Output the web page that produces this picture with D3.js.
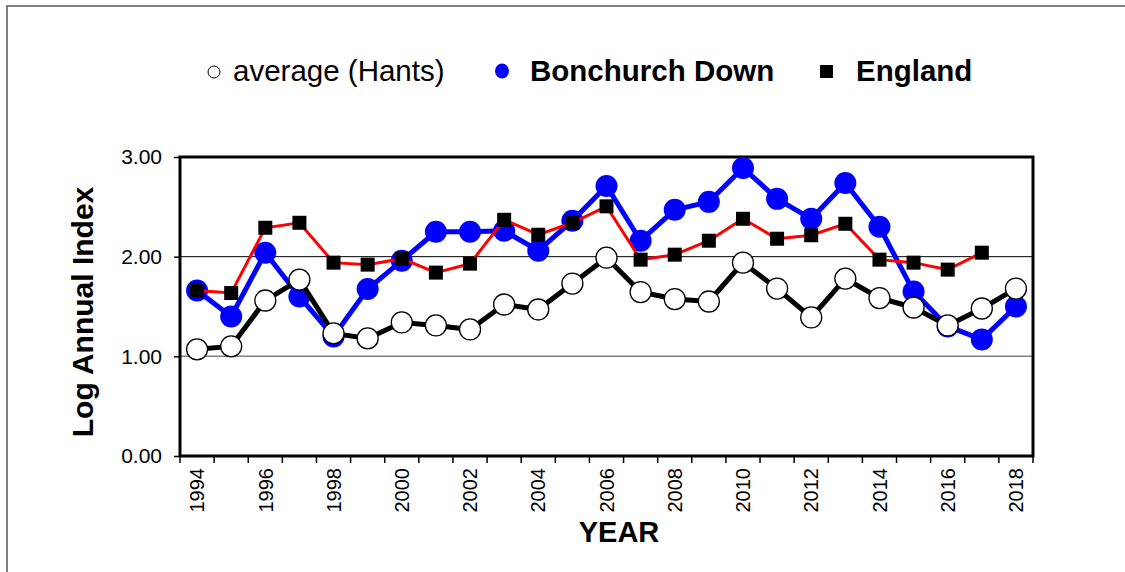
<!DOCTYPE html>
<html>
<head>
<meta charset="utf-8">
<title>Log Annual Index - Bonchurch Down</title>
<script src="https://d3js.org/d3.v7.min.js"></script>
<style>
  body { margin: 0; background: #fff; }
  text { font-family: "Liberation Sans", Arial, sans-serif; }
</style>
</head>
<body>
<div id="chart"></div>
<script>
// data
var years = d3.range(1994, 2019);
var average = [1.07, 1.10, 1.56, 1.77, 1.23, 1.18, 1.34, 1.31, 1.27, 1.52, 1.47, 1.73, 1.99,
               1.645, 1.575, 1.55, 1.94, 1.68, 1.39, 1.78, 1.585, 1.49, 1.31, 1.48, 1.68];
var bonchurch = [1.66, 1.40, 2.04, 1.60, 1.20, 1.675, 1.96, 2.25, 2.25, 2.26, 2.06, 2.36, 2.71,
                 2.16, 2.47, 2.55, 2.89, 2.58, 2.38, 2.74, 2.30, 1.65, 1.30, 1.17, 1.50];
var england = [1.66, 1.635, 2.29, 2.34, 1.94, 1.92, 1.98, 1.84, 1.93, 2.37, 2.22, 2.34, 2.505,
               1.97, 2.02, 2.16, 2.38, 2.18, 2.215, 2.33, 1.97, 1.94, 1.87, 2.04, null];
var yTicks = [0, 1, 2, 3];
var xLabelYears = years.filter(function(d) { return d % 2 === 0; });

var W = 1125, H = 572;
var plot = {left: 180, right: 1033, top: 157, bottom: 456};

var svg = d3.select("#chart").append("svg")
    .attr("width", W)
    .attr("height", H);

// outer chart border
svg.append("rect")
    .attr("x", 7).attr("y", 6)
    .attr("width", W + 20).attr("height", H + 20)
    .attr("fill", "none")
    .attr("stroke", "#555")
    .attr("stroke-width", 1.5);

var x = d3.scaleBand()
    .domain(years)
    .range([plot.left, plot.right])
    .padding(0);

var y = d3.scaleLinear()
    .domain([0, 3])
    .range([plot.bottom, plot.top]);

function cx(d) { return x(d) + x.bandwidth() / 2; }

// gridlines
svg.append("line")
    .attr("x1", plot.left).attr("x2", plot.right)
    .attr("y1", y(1)).attr("y2", y(1))
    .attr("stroke", "#808080").attr("stroke-width", 1.5);
svg.append("line")
    .attr("x1", plot.left).attr("x2", plot.right)
    .attr("y1", y(2)).attr("y2", y(2))
    .attr("stroke", "#000").attr("stroke-width", 1);

// y axis
var yAxis = svg.append("g")
    .attr("transform", "translate(" + plot.left + ",0)")
    .call(d3.axisLeft(y).tickValues(yTicks).tickFormat(d3.format(".2f")).tickSize(6).tickPadding(12));
yAxis.select(".domain").remove();
yAxis.selectAll(".tick line").attr("stroke", "#000").attr("stroke-width", 1.5);
yAxis.selectAll("text")
    .style("font-size", "21px")
    .attr("fill", "#000");

// x axis: ticks on band edges, labels every other year
var edges = years.map(function(d) { return x(d); }).concat([plot.right]);
svg.append("g").selectAll("line")
    .data(edges)
    .enter().append("line")
    .attr("x1", function(d) { return d; })
    .attr("x2", function(d) { return d; })
    .attr("y1", plot.bottom)
    .attr("y2", plot.bottom + 7)
    .attr("stroke", "#000")
    .attr("stroke-width", 1.5);

svg.append("g").selectAll("text")
    .data(xLabelYears)
    .enter().append("text")
    .attr("transform", function(d) { return "translate(" + cx(d) + "," + (plot.bottom + 12) + ") rotate(-90)"; })
    .attr("text-anchor", "end")
    .attr("dy", "0.36em")
    .style("font-size", "20px")
    .text(function(d) { return d; });

// plot frame
svg.append("rect")
    .attr("x", plot.left).attr("y", plot.top)
    .attr("width", plot.right - plot.left)
    .attr("height", plot.bottom - plot.top)
    .attr("fill", "none")
    .attr("stroke", "#000")
    .attr("stroke-width", 3);

var line = d3.line()
    .defined(function(d) { return d.v !== null; })
    .x(function(d) { return cx(d.year); })
    .y(function(d) { return y(d.v); });

function pairs(vals) {
  return years.map(function(yr, i) { return {year: yr, v: vals[i]}; });
}

// Bonchurch Down
var bData = pairs(bonchurch);
svg.append("path")
    .datum(bData)
    .attr("d", line)
    .attr("fill", "none")
    .attr("stroke", "#0000ff")
    .attr("stroke-width", 5)
    .attr("stroke-linejoin", "round");
svg.append("g").selectAll("circle")
    .data(bData)
    .enter().append("circle")
    .attr("cx", function(d) { return cx(d.year); })
    .attr("cy", function(d) { return y(d.v); })
    .attr("r", 11)
    .attr("fill", "#0000ff");

// England
var eData = pairs(england).filter(function(d) { return d.v !== null; });
svg.append("path")
    .datum(eData)
    .attr("d", line)
    .attr("fill", "none")
    .attr("stroke", "#ff0000")
    .attr("stroke-width", 3);
svg.append("g").selectAll("rect")
    .data(eData)
    .enter().append("rect")
    .attr("x", function(d) { return cx(d.year) - 7; })
    .attr("y", function(d) { return y(d.v) - 7; })
    .attr("width", 14)
    .attr("height", 14)
    .attr("fill", "#000");

// average (Hants)
var aData = pairs(average);
svg.append("path")
    .datum(aData)
    .attr("d", line)
    .attr("fill", "none")
    .attr("stroke", "#000")
    .attr("stroke-width", 5)
    .attr("stroke-linejoin", "round");
svg.append("g").selectAll("circle")
    .data(aData)
    .enter().append("circle")
    .attr("cx", function(d) { return cx(d.year); })
    .attr("cy", function(d) { return y(d.v); })
    .attr("r", 10.5)
    .attr("fill", "#fff")
    .attr("stroke", "#000")
    .attr("stroke-width", 1.3);

// axis titles
svg.append("text")
    .attr("transform", "translate(93,312) rotate(-90)")
    .attr("text-anchor", "middle")
    .style("font-size", "30px")
    .style("font-weight", "bold")
    .text("Log Annual Index");

svg.append("text")
    .attr("x", 619).attr("y", 542)
    .attr("text-anchor", "middle")
    .style("font-size", "29px")
    .style("font-weight", "bold")
    .text("YEAR");

// legend
var legend = svg.append("g");
legend.append("circle")
    .attr("cx", 214).attr("cy", 72).attr("r", 6)
    .attr("fill", "#fff").attr("stroke", "#000").attr("stroke-width", 1);
legend.append("text")
    .attr("x", 233).attr("y", 81)
    .style("font-size", "29.5px")
    .text("average (Hants)");
legend.append("ellipse")
    .attr("cx", 502).attr("cy", 71).attr("rx", 7).attr("ry", 7.5)
    .attr("fill", "#0000ff");
legend.append("text")
    .attr("x", 530).attr("y", 81)
    .style("font-size", "29.5px")
    .style("font-weight", "bold")
    .text("Bonchurch Down");
legend.append("rect")
    .attr("x", 820).attr("y", 65).attr("width", 13).attr("height", 13)
    .attr("fill", "#000");
legend.append("text")
    .attr("x", 856).attr("y", 81)
    .style("font-size", "29.5px")
    .style("font-weight", "bold")
    .text("England");
</script>
</body>
</html>
